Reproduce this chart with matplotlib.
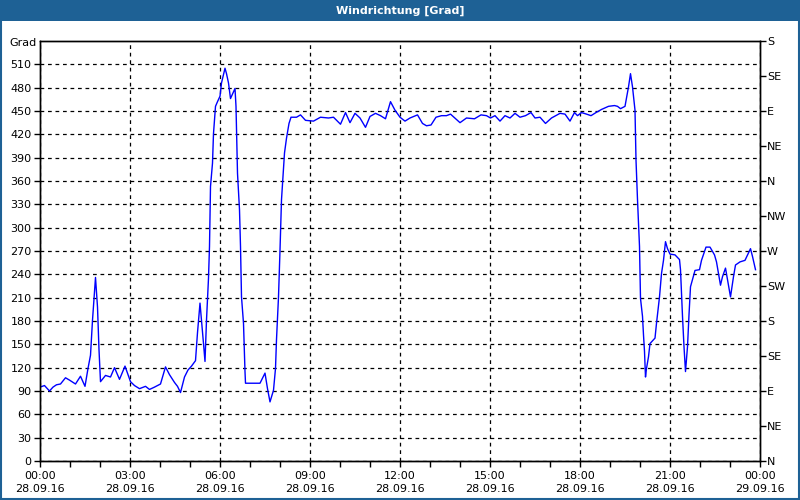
import matplotlib
matplotlib.use('Agg')
import matplotlib.pyplot as plt
from matplotlib.patches import Rectangle
from matplotlib.ticker import MultipleLocator, FixedLocator
import numpy as np

# minutes since 28.09.16 00:00
minutes = [
    0, 9, 19, 26, 33, 41, 51, 59, 71, 81,
    90, 96, 101, 105, 111, 115, 118, 121, 131, 141,
    149, 159, 170, 181, 189, 199, 211, 219, 229, 241,
    251, 259, 269, 275, 281, 289, 296, 303, 311, 315,
    320, 323, 327, 330, 333, 337, 339, 341, 345, 347,
    351, 355, 360, 363, 370, 373, 377, 381, 390, 392,
    395, 399, 401, 403, 407, 410, 411, 440, 450, 455,
    460, 467, 471, 473, 477, 480, 483, 489, 493, 498,
    502, 513, 521, 531, 547, 561, 577, 587, 601, 611,
    620, 630, 640, 651, 660, 671, 681, 691, 701, 710,
    720, 730, 740, 755, 765, 773, 782, 792, 803, 813,
    821, 833, 840, 853, 869, 882, 893, 901, 910, 920,
    930, 940, 950, 960, 971, 982, 990, 1000, 1011, 1023,
    1040, 1050, 1060, 1069, 1075, 1083, 1093, 1102, 1112, 1123,
    1137, 1149, 1155, 1161, 1170, 1177, 1181, 1185, 1190, 1192,
    1195, 1199, 1201, 1205, 1207, 1209, 1211, 1213, 1217, 1220,
    1230, 1233, 1239, 1243, 1247, 1251, 1255, 1260, 1270, 1279,
    1281, 1285, 1288, 1291, 1295, 1298, 1301, 1310, 1319, 1323,
    1332, 1340, 1349, 1353, 1357, 1361, 1365, 1371, 1375, 1381,
    1387, 1391, 1400, 1410, 1418, 1421, 1425, 1431,
]
# wind direction in degrees
direction = [
    95, 97, 90, 95, 98, 99, 107, 104, 99, 109,
    96, 119, 136, 181, 236, 198, 143, 102, 110, 108,
    120, 105, 122, 102, 97, 93, 96, 92, 95, 99,
    121, 111, 101, 96, 88, 108, 117, 122, 129, 165,
    203, 181, 151, 128, 181, 235, 276, 353, 383, 421,
    456, 462, 469, 486, 505, 498, 486, 466, 479, 456,
    370, 323, 276, 211, 177, 115, 100, 100, 113, 93,
    76, 91, 119, 156, 211, 271, 336, 396, 415, 434,
    442, 442, 445, 438, 437, 442, 441, 442, 433, 448,
    435, 447, 441, 429, 443, 447, 444, 440, 462, 451,
    442, 437, 441, 445, 434, 431, 432, 442, 444, 444,
    446, 439, 435, 441, 440, 445, 444, 441, 444, 437,
    444, 441, 447, 442, 444, 448, 441, 442, 434, 441,
    447, 446, 437, 448, 444, 448, 446, 444, 448, 452,
    456, 457, 456, 453, 456, 481, 498, 481, 451, 387,
    336, 276, 209, 186, 162, 141, 108, 119, 134, 151,
    158, 177, 211, 241, 258, 282, 273, 266, 265, 259,
    246, 186, 147, 115, 147, 188, 224, 245, 246, 258,
    275, 275, 265, 256, 241, 226, 237, 248, 233, 211,
    237, 252, 256, 258, 269, 273, 263, 246,
]

x_labels = ['00:00\n28.09.16', '03:00\n28.09.16', '06:00\n28.09.16',
            '09:00\n28.09.16', '12:00\n28.09.16', '15:00\n28.09.16',
            '18:00\n28.09.16', '21:00\n28.09.16', '00:00\n29.09.16']
compass = ['N', 'NE', 'E', 'SE', 'S', 'SW', 'W', 'NW',
           'N', 'NE', 'E', 'SE', 'S']

title = 'Windrichtung [Grad]'
bar_blue = '#1e6195'

plt.rcParams['font.family'] = 'DejaVu Sans'
plt.rcParams['font.size'] = 8

fig = plt.figure(figsize=(8, 5), dpi=100, facecolor='white')

# title bar + window frame
fig.patches.append(Rectangle((0, 0.958), 1, 0.042, transform=fig.transFigure,
                             facecolor=bar_blue, edgecolor='none', zorder=0))
fig.patches.append(Rectangle((0.001, 0.002), 0.998, 0.996, transform=fig.transFigure,
                             facecolor='none', edgecolor=bar_blue, lw=1.5, zorder=1))
fig.text(0.5, 0.979, title, ha='center', va='center', color='white',
         fontsize=8, fontweight='bold')

ax = fig.add_axes([0.05, 0.078, 0.90, 0.84])
hours = np.array(minutes) / 60.0
ax.plot(hours, direction, color='#0000ff', lw=1)

ax.set_xlim(0, 24)
ax.set_ylim(0, 540)

ax.set_xticks(np.arange(0, 25, 3))
ax.set_xticklabels(x_labels, linespacing=1.45)
ax.xaxis.set_minor_locator(MultipleLocator(1))
ax.set_yticks(np.arange(0, 511, 30))
ax.tick_params(axis='both', which='both', direction='out', length=4,
               width=1, color='black', labelsize=8, pad=2)
ax.tick_params(axis='x', which='major', pad=3)
ax.text(-0.005, 537, 'Grad', transform=ax.get_yaxis_transform(),
        ha='right', va='center', fontsize=8)

ax2 = ax.twinx()
ax2.set_ylim(0, 540)
ax2.yaxis.set_major_locator(FixedLocator(np.arange(0, 541, 45)))
ax2.set_yticklabels(compass)
ax2.tick_params(axis='y', direction='out', length=4, width=1,
                labelsize=8, pad=1)

ax.grid(True, which='major', color='black', linestyle=(0, (3, 3)), lw=0.9)
for a in (ax, ax2):
    for s in a.spines.values():
        s.set_color('black')
        s.set_linewidth(1)

plt.savefig('out.png', dpi=100, facecolor='white')
